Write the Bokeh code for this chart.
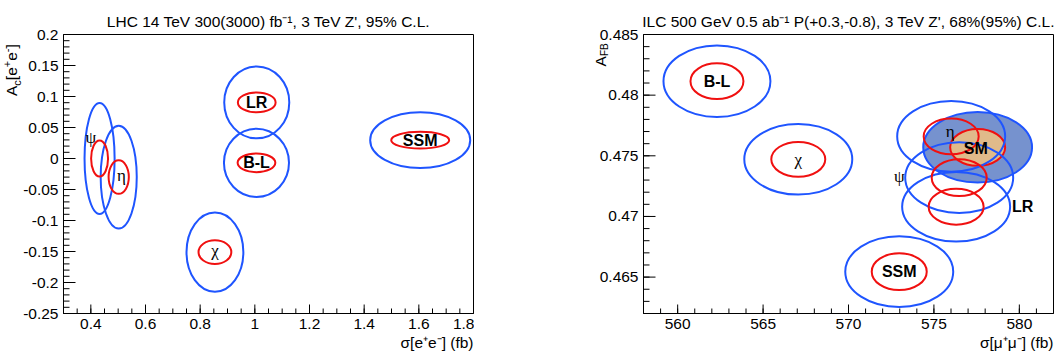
import numpy as np
from bokeh.plotting import figure
from bokeh.layouts import row
from bokeh.models import Label, FixedTicker, PrintfTickFormatter, Range1d, Title, Div
from bokeh.embed import file_html
from bokeh.resources import INLINE
from bokeh.core.properties import value

# ---------------- LHC panel data ----------------
lhc_models = ["ψ", "η", "χ", "LR", "B-L", "SSM"]
lhc_sigma = [0.432, 0.502, 0.854, 1.007, 1.006, 1.605]
lhc_ac = [0.000, -0.030, -0.151, 0.0905, -0.007, 0.0295]
lhc_300_dsigma = [0.110, 0.132, 0.208, 0.238, 0.238, 0.366]   # 95% C.L., 300 fb-1
lhc_300_dac = [0.179, 0.166, 0.128, 0.116, 0.110, 0.090]
lhc_3000_dsigma = [0.062, 0.074, 0.120, 0.138, 0.138, 0.212]  # 95% C.L., 3000 fb-1
lhc_3000_dac = [0.058, 0.054, 0.038, 0.032, 0.030, 0.027]
lhc_label_x = [0.400, 0.512, 0.854, 1.007, 1.006, 1.605]
lhc_label_y = [0.034, -0.027, -0.149, 0.0905, -0.007, 0.0295]
lhc_xticks = [0.4, 0.6, 0.8, 1.0, 1.2, 1.4, 1.6, 1.8]
lhc_yticks = [-0.25, -0.2, -0.15, -0.1, -0.05, 0.0, 0.05, 0.1, 0.15, 0.2]

# ---------------- ILC panel data ----------------
ilc_models = ["B-L", "χ", "η", "SM", "ψ", "LR", "SSM"]
ilc_sigma = [562.3, 567.06, 576.01, 577.56, 576.48, 576.3, 572.97]
ilc_afb = [0.48115, 0.47471, 0.4766, 0.4757, 0.4732, 0.4708, 0.46545]
ilc_95_dsigma = [6.26, 6.32, 6.32, 6.37, 6.32, 6.32, 6.32]
ilc_95_dafb = [0.0059, 0.00582, 0.00582, 0.00582, 0.00582, 0.00574, 0.00582]
ilc_68_dsigma = [3.10, 3.16, 3.22, 3.22, 3.22, 3.22, 3.22]
ilc_68_dafb = [0.00295, 0.00287, 0.00295, 0.00303, 0.00303, 0.00295, 0.00303]
ilc_label_x = [562.3, 567.06, 575.95, 577.45, 572.97, 580.2, 572.97]
ilc_label_y = [0.48115, 0.47471, 0.47697, 0.47557, 0.4733, 0.4708, 0.46545]
ilc_xticks = [560, 565, 570, 575, 580]
ilc_yticks = [0.465, 0.47, 0.475, 0.48, 0.485]

BLUE = "#1f55ff"
RED = "#f01010"
SANS = "Liberation Sans"
SERIF = "Liberation Serif"
FS = "15.5px"
GREEK = {"ψ", "η", "χ"}


def style_axes(p, xmajor, ymajor):
    p.xgrid.visible = False
    p.ygrid.visible = False
    p.outline_line_color = "black"
    p.outline_line_width = 1
    p.background_fill_color = None
    p.border_fill_color = None
    p.xaxis.ticker = FixedTicker(ticks=xmajor, minor_ticks=[])
    p.yaxis.ticker = FixedTicker(ticks=ymajor, minor_ticks=[])
    for ax in (p.xaxis[0], p.yaxis[0]):
        ax.formatter = PrintfTickFormatter(format="%g")
        ax.major_tick_in = 0
        ax.major_tick_out = 0
        ax.minor_tick_in = 0
        ax.minor_tick_out = 0
        ax.axis_line_color = "black"
        ax.major_label_text_font = SANS
        ax.major_label_text_font_size = FS
        ax.major_label_text_color = "black"
        ax.major_label_standoff = 5


def inward_ticks(p, xmajor, xminor, ymajor, yminor):
    # tick marks drawn as dash markers centred on the frame edge; the half
    # outside the frame is clipped away, so they point inwards like ROOT ticks
    x0 = p.x_range.start
    y0 = p.y_range.start
    p.scatter(x=[x0] * len(ymajor), y=ymajor, marker="dash", size=24, line_color="black", line_width=1)
    p.scatter(x=[x0] * len(yminor), y=yminor, marker="dash", size=12, line_color="black", line_width=1)
    p.scatter(x=xmajor, y=[y0] * len(xmajor), marker="dash", angle=np.pi / 2, size=18,
              line_color="black", line_width=1)
    p.scatter(x=xminor, y=[y0] * len(xminor), marker="dash", angle=np.pi / 2, size=10,
              line_color="black", line_width=1)


def add_text(p, xs, ys, names):
    bx = [x for x, n in zip(xs, names) if n not in GREEK]
    by = [y for y, n in zip(ys, names) if n not in GREEK]
    bn = [n for n in names if n not in GREEK]
    gx = [x for x, n in zip(xs, names) if n in GREEK]
    gy = [y for y, n in zip(ys, names) if n in GREEK]
    gn = [n for n in names if n in GREEK]
    p.text(x=bx, y=by, text=bn, text_font=value(SANS), text_font_style="bold",
           text_font_size="16px", text_align="center", text_baseline="middle",
           text_color="black")
    p.text(x=gx, y=gy, text=gn, text_font=value(SERIF), text_font_size="17px",
           text_align="center", text_baseline="middle", text_color="black")


def title(p, text, offset=0):
    p.add_layout(Title(text=text, align="center", offset=offset, standoff=10,
                       text_font=SANS, text_font_size=FS, text_font_style="normal",
                       text_color="black"), "above")


def xtitle(p, text):
    p.add_layout(Title(text=text, align="right", standoff=0,
                       text_font=SANS, text_font_size=FS, text_font_style="normal",
                       text_color="black"), "below")


# ---------------- y title of the left panel (HTML, for sub/superscripts) ----------------
ytitle1 = Div(width=20, height=353, margin=(0, 0, 0, 0), text=(
    "<div style=\"position:relative;left:3px;top:84px;width:0;height:0;\">"
    "<div style=\"position:absolute;left:0;top:0;transform:rotate(-90deg);transform-origin:0 0;"
    "white-space:nowrap;font-family:'Liberation Sans';font-size:15.5px;line-height:18px;color:black;\">"
    "A<sub style=\"font-size:11px;line-height:0\">c</sub>[e<sup style=\"font-size:11px;line-height:0\">+</sup>"
    "e<sup style=\"font-size:11px;line-height:0\">-</sup>]</div></div>"))

# ---------------- left figure ----------------
p1 = figure(width=454, height=353, x_range=Range1d(0.3, 1.8), y_range=Range1d(-0.25, 0.2),
            output_backend="svg", toolbar_location=None, margin=(0, 0, 0, 0),
            min_border_left=41, min_border_right=1, min_border_top=34, min_border_bottom=40)
style_axes(p1, lhc_xticks, lhc_yticks)
inward_ticks(p1, lhc_xticks, list(np.round(np.arange(0.3, 1.801, 0.05), 3)),
             lhc_yticks, list(np.round(np.arange(-0.25, 0.2001, 0.01), 3)))

p1.ellipse(x=lhc_sigma, y=lhc_ac, width=lhc_300_dsigma, height=lhc_300_dac,
           fill_color=None, line_color=BLUE, line_width=2)
p1.ellipse(x=lhc_sigma, y=lhc_ac, width=lhc_3000_dsigma, height=lhc_3000_dac,
           fill_color=None, line_color=RED, line_width=2)
add_text(p1, lhc_label_x, lhc_label_y, lhc_models)

title(p1, "LHC 14 TeV 300(3000) fb⁻¹, 3 TeV Z', 95% C.L.", offset=-5)
xtitle(p1, "σ[e⁺e⁻] (fb)")

# ---------------- right figure ----------------
p2 = figure(width=581, height=353, x_range=Range1d(558, 582), y_range=Range1d(0.462, 0.485),
            output_backend="svg", toolbar_location=None, margin=(0, 0, 0, 0),
            min_border_left=169, min_border_right=2, min_border_top=34, min_border_bottom=40)
style_axes(p2, ilc_xticks, ilc_yticks)
inward_ticks(p2, ilc_xticks, list(range(558, 583)),
             ilc_yticks, list(np.round(np.arange(0.462, 0.48501, 0.001), 4)))

sm = ilc_models.index("SM")
p2.ellipse(x=[ilc_sigma[sm]], y=[ilc_afb[sm]], width=[ilc_95_dsigma[sm]], height=[ilc_95_dafb[sm]],
           fill_color="#7692ce", line_color=BLUE, line_width=2)
p2.ellipse(x=[ilc_sigma[sm]], y=[ilc_afb[sm]], width=[ilc_68_dsigma[sm]], height=[ilc_68_dafb[sm]],
           fill_color="#e0ba8a", line_color=RED, line_width=2)
others = [i for i in range(len(ilc_models)) if i != sm]
p2.ellipse(x=[ilc_sigma[i] for i in others], y=[ilc_afb[i] for i in others],
           width=[ilc_95_dsigma[i] for i in others], height=[ilc_95_dafb[i] for i in others],
           fill_color=None, line_color=BLUE, line_width=2)
p2.ellipse(x=[ilc_sigma[i] for i in others], y=[ilc_afb[i] for i in others],
           width=[ilc_68_dsigma[i] for i in others], height=[ilc_68_dafb[i] for i in others],
           fill_color=None, line_color=RED, line_width=2)
add_text(p2, ilc_label_x, ilc_label_y, ilc_models)

title(p2, "ILC 500 GeV 0.5 ab⁻¹ P(+0.3,-0.8), 3 TeV Z', 68%(95%) C.L.")
xtitle(p2, "σ[μ⁺μ⁻] (fb)")
# y title of the right panel: labels placed in the left side panel (not clipped to the frame)
p2.add_layout(Label(x=558, y=0.485, x_offset=-43, y_offset=-32, text="A", angle=np.pi / 2,
                    text_font=SANS, text_font_size=FS, text_align="left", text_baseline="middle",
                    text_color="black"), "left")
p2.add_layout(Label(x=558, y=0.485, x_offset=-39, y_offset=-21.5, text="FB", angle=np.pi / 2,
                    text_font=SANS, text_font_size="10px", text_align="left", text_baseline="middle",
                    text_color="black"), "left")

layout = row(ytitle1, p1, p2, margin=(0, 0, 0, 0))
open("out.html", "w").write(file_html(layout, INLINE))
